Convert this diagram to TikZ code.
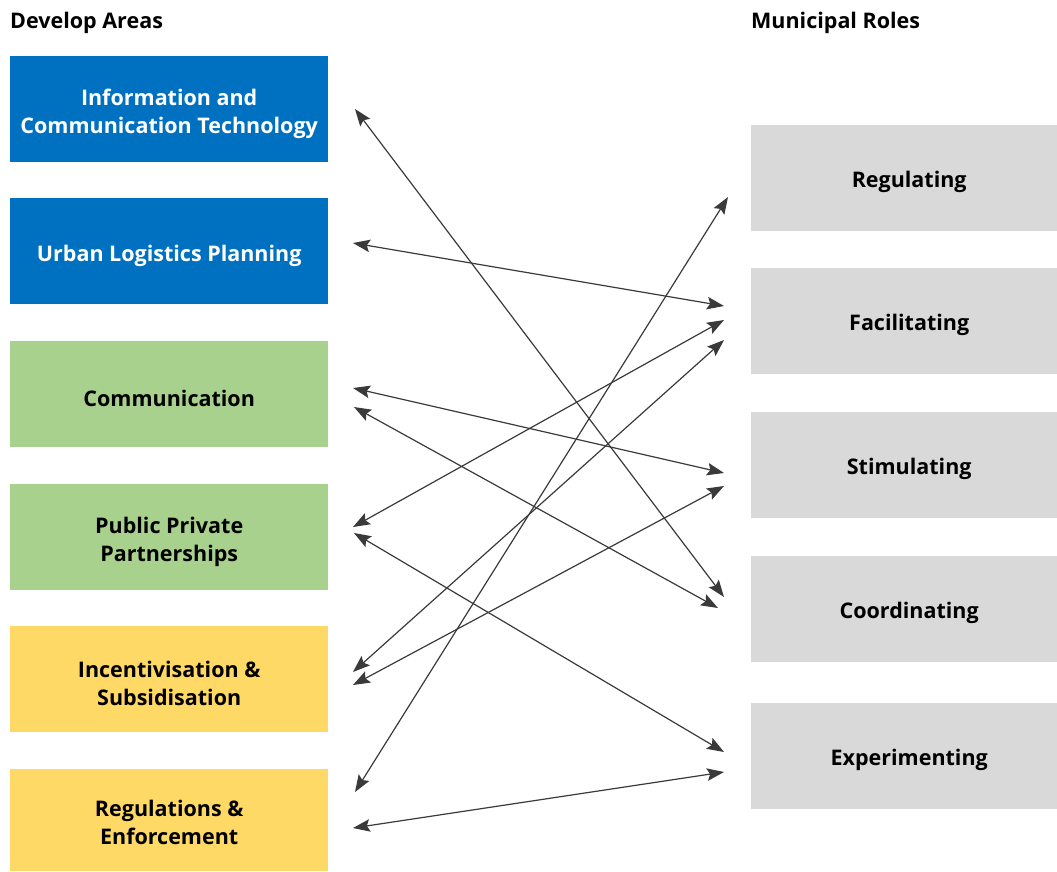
\documentclass[tikz,border=0pt]{standalone}
\usepackage{fontspec}
\setmainfont{Open Sans}
\usetikzlibrary{arrows.meta}
\definecolor{cblue}{HTML}{0070C0}
\definecolor{cgreen}{HTML}{A9D18E}
\definecolor{cyellow}{HTML}{FFD966}
\definecolor{cgray}{HTML}{D9D9D9}
\definecolor{carrow}{HTML}{3A3A3A}
\begin{document}
\begin{tikzpicture}[x=1pt,y=-1pt,
  lbox/.style={anchor=north west,minimum width=318pt,minimum height=106pt,inner sep=0pt},
  rbox/.style={anchor=north west,fill=cgray,minimum width=306pt,minimum height=106pt,inner sep=0pt},
  boxtext/.style={inner sep=0pt,align=center,font=\fontsize{21.5}{28}\selectfont\bfseries},
  title/.style={anchor=base west,inner sep=0pt,font=\fontsize{21.5}{24}\selectfont\bfseries},
  link/.style={carrow,line width=1.2pt,{Stealth[length=17pt,width=12.5pt,inset=3pt]}-{Stealth[length=17pt,width=12.5pt,inset=3pt]}}]
\useasboundingbox (0,0) rectangle (1057,871);
\node[title] (t1) at (10,28) {Develop Areas};
\node[title] (t2) at (751,28) {Municipal Roles};
\node[lbox,fill=cblue] (ict) at (10,56) {};
\node[lbox,fill=cblue] (ulp) at (10,198) {};
\node[lbox,fill=cgreen] (com) at (10,341) {};
\node[lbox,fill=cgreen] (ppp) at (10,484) {};
\node[lbox,fill=cyellow] (inc) at (10,626) {};
\node[lbox,fill=cyellow,minimum height=102pt] (reg) at (10,769) {};
\node[boxtext,text=white] (ict-t) at ([yshift=-4.5pt]ict.center) {Information and\\Communication Technology};
\node[boxtext,text=white] (ulp-t) at ([yshift=-4.5pt]ulp.center) {Urban Logistics Planning};
\node[boxtext] (com-t) at ([yshift=-4.5pt]com.center) {Communication};
\node[boxtext] (ppp-t) at ([yshift=-4.5pt]ppp.center) {Public Private\\Partnerships};
\node[boxtext] (inc-t) at ([yshift=-4.5pt]inc.center) {Incentivisation \&\\Subsidisation};
\node[boxtext] (reg-t) at ([yshift=-2.5pt]reg.center) {Regulations \&\\Enforcement};
\node[rbox] (rgl) at (751,125) {};
\node[rbox] (fac) at (751,268) {};
\node[rbox] (sti) at (751,412) {};
\node[rbox] (coo) at (751,556) {};
\node[rbox] (exp) at (751,703) {};
\node[boxtext] (rgl-t) at ([xshift=5pt,yshift=-4pt]rgl.center) {Regulating};
\node[boxtext] (fac-t) at ([xshift=5pt,yshift=-4pt]fac.center) {Facilitating};
\node[boxtext] (sti-t) at ([xshift=5pt,yshift=-4pt]sti.center) {Stimulating};
\node[boxtext] (coo-t) at ([xshift=5pt,yshift=-4pt]coo.center) {Coordinating};
\node[boxtext] (exp-t) at ([xshift=5pt,yshift=-4pt]exp.center) {Experimenting};
% arrow end points
\coordinate (ict-a) at (355,109);
\coordinate (ulp-a) at (353,243);
\coordinate (com-a) at (353,388);
\coordinate (com-b) at (354,407);
\coordinate (ppp-a) at (353,527);
\coordinate (ppp-b) at (354,533);
\coordinate (inc-a) at (353,672);
\coordinate (inc-b) at (353,685);
\coordinate (reg-a) at (355,792);
\coordinate (reg-b) at (353,828);
\coordinate (rgl-a) at (728,197);
\coordinate (fac-a) at (724,306);
\coordinate (fac-b) at (724,320);
\coordinate (fac-c) at (724,340);
\coordinate (sti-a) at (724,473);
\coordinate (sti-b) at (724,486);
\coordinate (coo-a) at (724,597);
\coordinate (coo-b) at (718,608);
\coordinate (exp-a) at (724,752);
\coordinate (exp-b) at (724,772);
\draw[link] (ict-a) -- (coo-a);
\draw[link] (ulp-a) -- (fac-a);
\draw[link] (com-a) -- (sti-a);
\draw[link] (com-b) -- (coo-b);
\draw[link] (ppp-a) -- (fac-b);
\draw[link] (ppp-b) -- (exp-a);
\draw[link] (inc-a) -- (fac-c);
\draw[link] (inc-b) -- (sti-b);
\draw[link] (reg-a) -- (rgl-a);
\draw[link] (reg-b) -- (exp-b);
\end{tikzpicture}
\end{document}
